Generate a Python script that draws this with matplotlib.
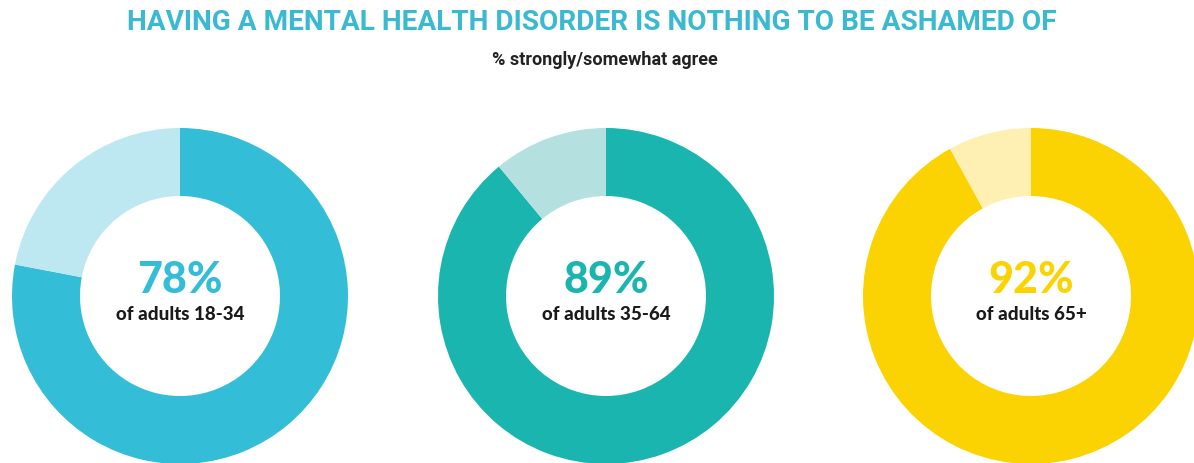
import matplotlib
matplotlib.use("Agg")
import matplotlib.pyplot as plt
from matplotlib import font_manager

# Survey data: share of adults who agree, by age group
groups = ["of adults 18-34", "of adults 35-64", "of adults 65+"]
agree = [78, 89, 92]
main_colors = ["#33BDD7", "#1BB5AF", "#FBD303"]
light_colors = ["#BEE8F1", "#B4E1DF", "#FDF0B2"]

title = "HAVING A MENTAL HEALTH DISORDER IS NOTHING TO BE ASHAMED OF"
subtitle = "% strongly/somewhat agree"

W, H = 1194, 463
fig = plt.figure(figsize=(W / 100, H / 100), dpi=100)
ax = fig.add_axes([0, 0, 1, 1])

names = {f.name for f in font_manager.fontManager.ttflist}
head = "Roboto" if "Roboto" in names else "DejaVu Sans"
body = "Lato" if "Lato" in names else "DejaVu Sans"

centers_x = [180, 606, 1031]
center_y = H - 296
outer_r = 168
ring_w = 68

for cx, val, c_main, c_light, label in zip(centers_x, agree, main_colors,
                                            light_colors, groups):
    ax.pie([val, 100 - val], colors=[c_main, c_light], startangle=90,
           counterclock=False, center=(cx, center_y), radius=outer_r,
           wedgeprops=dict(width=ring_w, linewidth=0), frame=True)
    ax.text(cx, H - 280, f"{val}%", ha="center", va="center",
            fontsize=31, fontweight="black", color=c_main, family=body)
    ax.text(cx, H - 315, label, ha="center", va="center",
            fontsize=13.5, fontweight="black", color="#1a1a1a", family=body)

ax.text(W / 2 - 5, H - 23, title, ha="center", va="center", fontsize=20.2,
        fontweight="bold", color="#3BB9D1", family=head)
ax.text(W / 2 + 8, H - 60, subtitle, ha="center", va="center", fontsize=13,
        fontweight="bold", color="#222222", family=head)

ax.set_xlim(0, W)
ax.set_ylim(0, H)
ax.set_aspect("equal")
ax.axis("off")

fig.savefig("out.png", dpi=100, facecolor="white")
